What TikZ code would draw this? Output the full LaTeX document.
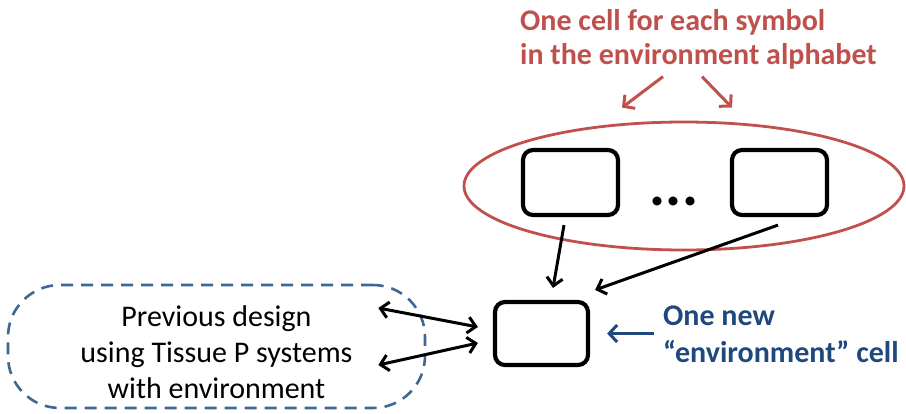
\documentclass[tikz,border=0pt]{standalone}
\usepackage{fontspec}
\setmainfont{Carlito}
\usetikzlibrary{arrows.meta,calc,shapes.geometric}
\definecolor{accred}{HTML}{C0504D}
\definecolor{accblue}{HTML}{1F497D}
\definecolor{dashblue}{HTML}{3E6792}
\begin{document}
\begin{tikzpicture}[x=1pt,y=-1pt,
  cellbox/.style={draw=black,line width=4.2pt,rounded corners=10pt,inner sep=0pt},
  conn/.style={line width=3pt,-{Straight Barb[length=8pt,width=16pt,line width=3pt]}},
  biconn/.style={line width=3pt,{Straight Barb[length=8pt,width=16pt,line width=3pt]}-{Straight Barb[length=8pt,width=16pt,line width=3pt]}},
  redconn/.style={accred,line width=3pt,-{Straight Barb[length=8pt,width=17pt,line width=3pt]}},
  blueconn/.style={accblue,line width=3pt,-{Straight Barb[length=8pt,width=17pt,line width=3pt]}},
  txt/.style={inner sep=0pt,font=\fontsize{30}{36}\selectfont}]
\useasboundingbox (0,0) rectangle (906,413);
% environment cells
\node[draw=accred,line width=2.8pt,ellipse,minimum width=440pt,minimum height=128pt,inner sep=0pt] (env) at (684,186) {};
\node[cellbox,minimum width=95pt,minimum height=65pt] (cellA) at (570.5,182.5) {};
\node[cellbox,minimum width=95pt,minimum height=65pt] (cellB) at (779.5,182.5) {};
\node[inner sep=0pt,anchor=base,font=\fontsize{60}{60}\selectfont\bfseries] (dots) at (674,205) {...};
% new environment cell
\node[cellbox,minimum width=93pt,minimum height=63pt] (newcell) at (541.5,333.5) {};
% previous design
\node[draw=dashblue,line width=2.6pt,dash pattern=on 12pt off 8pt,rounded corners=52pt,minimum width=417pt,minimum height=123pt,inner sep=0pt] (prev) at (216.5,346.5) {};
\node[txt,align=center] (prevtext) at ($(prev.center)+(0,5.5)$) {Previous design\\using Tissue P systems\\with environment};
% labels
\node[txt,accred,font=\fontsize{30}{34}\selectfont\bfseries,align=left,anchor=base west] (redlabel) at (520,64) {One cell for each symbol\\in the environment alphabet};
\node[txt,accblue,font=\fontsize{30}{37}\selectfont\bfseries,align=left,anchor=base west] (bluelabel) at (663,362) {One new\\“environment” cell};
% connectors
\draw[redconn] ($(env.north)+(-21,-44)$) -- ($(env.north)+(-62,-13)$);
\draw[redconn] ($(env.north)+(18,-44)$) -- ($(env.north)+(48,-13)$);
\draw[conn] ($(cellA.south)+(-6.5,8)$) -- ($(newcell.north)+(11.5,-12)$);
\draw[conn] ($(cellB.south)+(-1.5,8)$) -- ($(newcell.north east)+(5,-10)$);
\draw[biconn] ($(prev.east)+(-48,-38.5)$) -- ($(newcell.west)+(-15,-6.5)$);
\draw[biconn] ($(prev.east)+(-48,18.5)$) -- ($(newcell.west)+(-15,9.5)$);
\draw[blueconn] ($(newcell.east)+(64,0)$) -- ($(newcell.east)+(17,0)$);
\end{tikzpicture}
\end{document}
